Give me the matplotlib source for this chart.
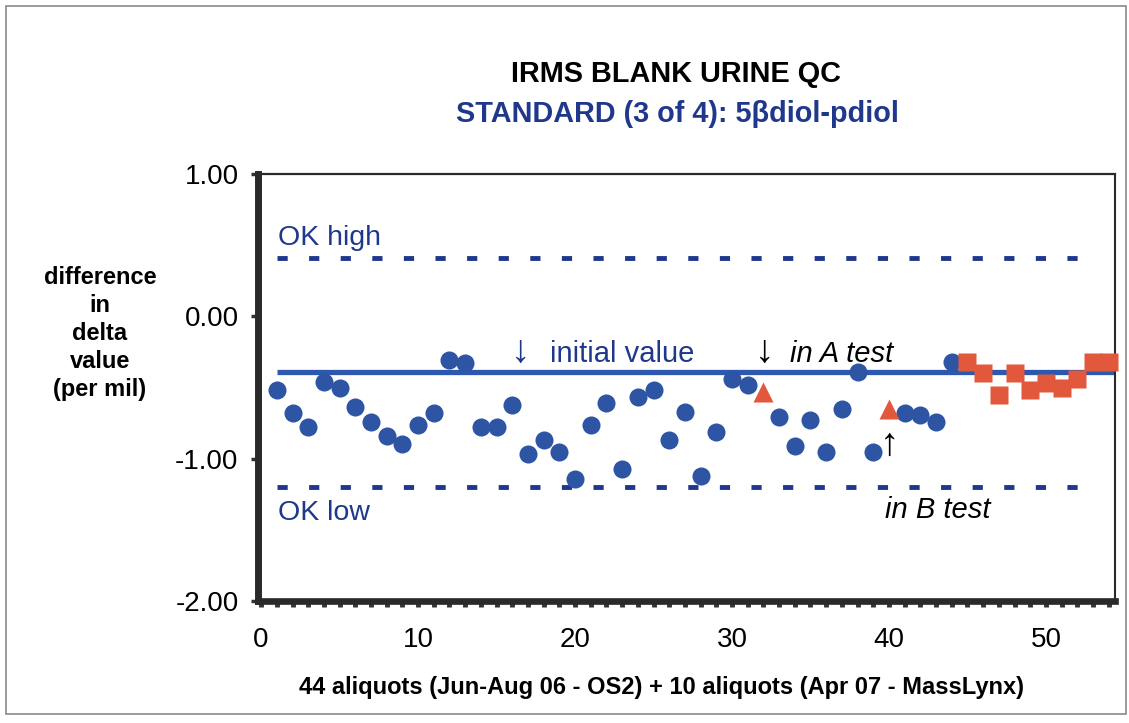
import matplotlib
matplotlib.use("Agg")
import matplotlib.pyplot as plt
from matplotlib.ticker import MultipleLocator
from matplotlib.patches import Rectangle

plt.rcParams["font.family"] = ["Liberation Sans", "DejaVu Sans"]

# aliquot number and difference in delta value (per mil)
aliquot = list(range(1, 55))
diff_value = [
    -0.52, -0.68, -0.78, -0.46, -0.50, -0.64, -0.74, -0.84, -0.90, -0.76,
    -0.68, -0.31, -0.33, -0.78, -0.78, -0.62, -0.97, -0.87, -0.95, -1.14,
    -0.76, -0.61, -1.07, -0.57, -0.52, -0.87, -0.67, -1.12, -0.81, -0.44,
    -0.48, -0.53, -0.71, -0.91, -0.73, -0.95, -0.65, -0.39, -0.95, -0.65,
    -0.68, -0.69, -0.74, -0.32, -0.32, -0.40, -0.55, -0.40, -0.52, -0.47,
    -0.50, -0.44, -0.32, -0.32,
]
# c = OS2 run, t = A test re-run, s = MassLynx run
kind = list("c" * 31 + "t" + "c" * 7 + "t" + "c" * 4 + "s" * 10)

initial_value = -0.39
ok_high = 0.41
ok_low = -1.20

blue = "#2E54A4"
red = "#E2583C"
navy = "#1F388C"

fig = plt.figure(figsize=(11.29, 7.23), dpi=100)
ax = fig.add_axes([0.2285, 0.1687, 0.7591, 0.5906])

ax.plot([1, 54.4], [initial_value, initial_value], color="#2D58B0", lw=3.8,
        solid_capstyle="butt", zorder=2)
for lvl in [ok_high, ok_low]:
    ax.plot([1, 53.2], [lvl, lvl], color=navy, lw=3.5, dashes=(2.1, 4.4),
            dash_capstyle="butt", zorder=2)

styles = {"c": ("o", blue, 13), "t": ("^", red, 14), "s": ("s", red, 12.5)}
for k in ["c", "t", "s"]:
    xs = [a for a, kk in zip(aliquot, kind) if kk == k]
    ys = [v for v, kk in zip(diff_value, kind) if kk == k]
    m, col, ms = styles[k]
    ax.plot(xs, ys, ls="none", marker=m, color=col, ms=ms, mec="none",
            zorder=3, clip_on=False)

ax.set_xlim(-0.2, 54.4)
ax.set_ylim(-2, 1)
ax.xaxis.set_major_locator(MultipleLocator(10))
ax.xaxis.set_minor_locator(MultipleLocator(1))
ax.set_yticks([1, 0, -1, -2])
ax.set_yticklabels(["1.00", "0.00", "-1.00", "-2.00"])

ax.tick_params(axis="x", which="both", direction="out", length=4.5, width=3.5,
               color="#333333", labelsize=20, pad=14)
ax.tick_params(axis="y", direction="out", length=5, width=2.5,
               color="#333333", labelsize=20, pad=9)

for side, lw in [("left", 5), ("bottom", 4.8), ("top", 1.6), ("right", 1.5)]:
    ax.spines[side].set_linewidth(lw)
    ax.spines[side].set_color("#2a2a2a")

# annotations inside the plot
ax.text(1.05, 0.50, "OK high", color=navy, fontsize=20.5)
ax.text(1.05, -1.43, "OK low", color=navy, fontsize=20.5)
ax.text(16.55, -0.25, "\u2193", color=navy, fontsize=28, ha="center",
        va="center")
ax.text(18.4, -0.32, "initial value", color=navy, fontsize=21)
ax.text(32.1, -0.25, "\u2193", color="black", fontsize=28, ha="center",
        va="center")
ax.text(33.7, -0.32, "in A test", color="black", fontsize=21, style="italic")
ax.text(40.05, -0.905, "\u2191", color="black", fontsize=28, ha="center",
        va="center")
ax.text(39.75, -1.42, "in B test", color="black", fontsize=21, style="italic")

# titles and axis labels
fig.text(0.599, 1 - 82 / 723, "IRMS BLANK URINE QC", ha="center",
         fontsize=20.8, fontweight="bold", color="black")
fig.text(0.600, 1 - 122 / 723, "STANDARD (3 of 4): 5\u03b2diol-pdiol",
         ha="center", fontsize=20.8, fontweight="bold", color=navy)
fig.text(0.0886, 0.539, "difference\nin\ndelta\nvalue\n(per mil)",
         ha="center", va="center", fontsize=17, fontweight="bold",
         linespacing=1.27)
fig.text(0.5855, 1 - 694 / 723,
         "44 aliquots (Jun-Aug 06 - OS2) + 10 aliquots (Apr 07 - MassLynx)",
         ha="center", fontsize=17, fontweight="bold")

# thin frame round the whole chart
fig.add_artist(Rectangle((6 / 1129, 1 - 714 / 723), 1120 / 1129, 708 / 723,
                         transform=fig.transFigure, fill=False,
                         edgecolor="#8a8a8a", lw=1.2))

fig.savefig("out.png", dpi=100)
